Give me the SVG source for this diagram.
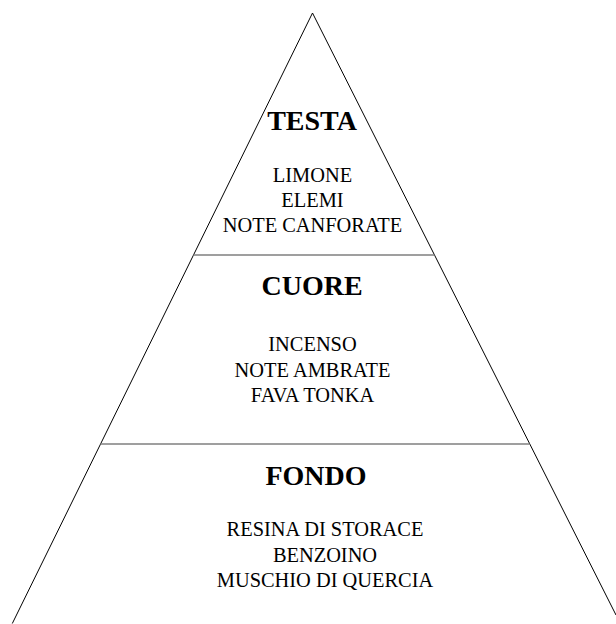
<svg xmlns="http://www.w3.org/2000/svg" width="616" height="624" viewBox="0 0 616 624">
<style>
.edge{stroke:#000;stroke-width:1;fill:none}
.sep{stroke:#7f7f7f;stroke-width:1.6;fill:none}
.h{font-family:"Liberation Serif","DejaVu Serif",serif;font-weight:bold;font-size:28px;text-anchor:middle;fill:#000}
.t{font-family:"Liberation Serif","DejaVu Serif",serif;font-size:20.4px;text-anchor:middle;fill:#000}
</style>
<rect width="616" height="624" fill="#fff"/>
<g id="pyramid">
<path class="edge" d="M12.3,623.5 L312.5,13 L616,615"/>
<line class="sep" x1="193.4" y1="255" x2="434.5" y2="255"/>
<line class="sep" x1="100.4" y1="444" x2="529.7" y2="444"/>
</g>
<g id="testa">
<text class="h" x="312" y="130">TESTA</text>
<text class="t" x="312.5" y="181.7">LIMONE</text>
<text class="t" x="312.5" y="206.7">ELEMI</text>
<text class="t" x="312.5" y="231.7">NOTE CANFORATE</text>
</g>
<g id="cuore">
<text class="h" x="312" y="295">CUORE</text>
<text class="t" x="312.5" y="351">INCENSO</text>
<text class="t" x="312.5" y="377">NOTE AMBRATE</text>
<text class="t" x="312.5" y="402">FAVA TONKA</text>
</g>
<g id="fondo">
<text class="h" x="316" y="485">FONDO</text>
<text class="t" x="325" y="535.7">RESINA DI STORACE</text>
<text class="t" x="325" y="561.7">BENZOINO</text>
<text class="t" x="325" y="587">MUSCHIO DI QUERCIA</text>
</g>
</svg>
